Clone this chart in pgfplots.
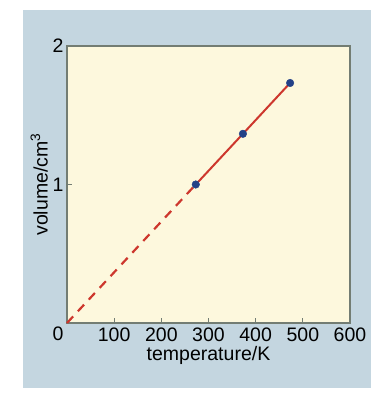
\documentclass[border=0pt]{standalone}
\usepackage{pgfplots}
\pgfplotsset{compat=1.18}
\usepackage{fontspec}
\setmainfont{Liberation Sans}
\definecolor{panel}{RGB}{196,214,224}
\definecolor{cream}{RGB}{253,248,221}
\definecolor{axgrey}{RGB}{115,125,115}
\definecolor{redl}{RGB}{205,55,45}
\definecolor{bluem}{RGB}{35,65,135}
\begin{document}
\begin{tikzpicture}[x=1bp,y=1bp]
\useasboundingbox (0,0) rectangle (382,399);
\fill[white] (0,0) rectangle (382,399);
\fill[panel] (23,11) rectangle (371,389);
\begin{axis}[
  at={(67bp,76bp)}, anchor=south west,
  scale only axis, width=283bp, height=277bp,
  xmin=0, xmax=600, ymin=0, ymax=2,
  xtick={100,200,...,600}, ytick={1,2},
  extra y ticks={0}, extra y tick labels={0},
  extra y tick style={major tick length=0pt, tick label style={yshift=-11bp}},
  tick pos=left, tick align=inside, major tick length=5bp,
  tick style={axgrey, line width=0.8bp},
  axis line style={axgrey, line width=1.2bp},
  axis background/.style={fill=cream},
  font=\fontsize{19.5bp}{22bp}\selectfont,
  tick label style={font=\fontsize{19.5bp}{22bp}\selectfont},
  /pgf/number format/assume math mode=true,
  xticklabel style={yshift=-1bp},
  xlabel={temperature/K}, ylabel={volume/cm\textsuperscript{3}},
  xlabel style={yshift=2bp},
  ylabel style={yshift=-2bp},
  clip=false,
]
\addplot[redl, line width=2.2bp, dash pattern=on 9bp off 7bp] coordinates {(0,0) (273,1.0)};
\addplot[redl, line width=2bp] coordinates {(273,1.0) (373,1.366) (473,1.733)};
\addplot[only marks, mark=*, mark size=3.8bp, mark options={fill=bluem, draw=bluem}] coordinates {(273,1.0) (373,1.366) (473,1.733)};
\end{axis}
\end{tikzpicture}
\end{document}
